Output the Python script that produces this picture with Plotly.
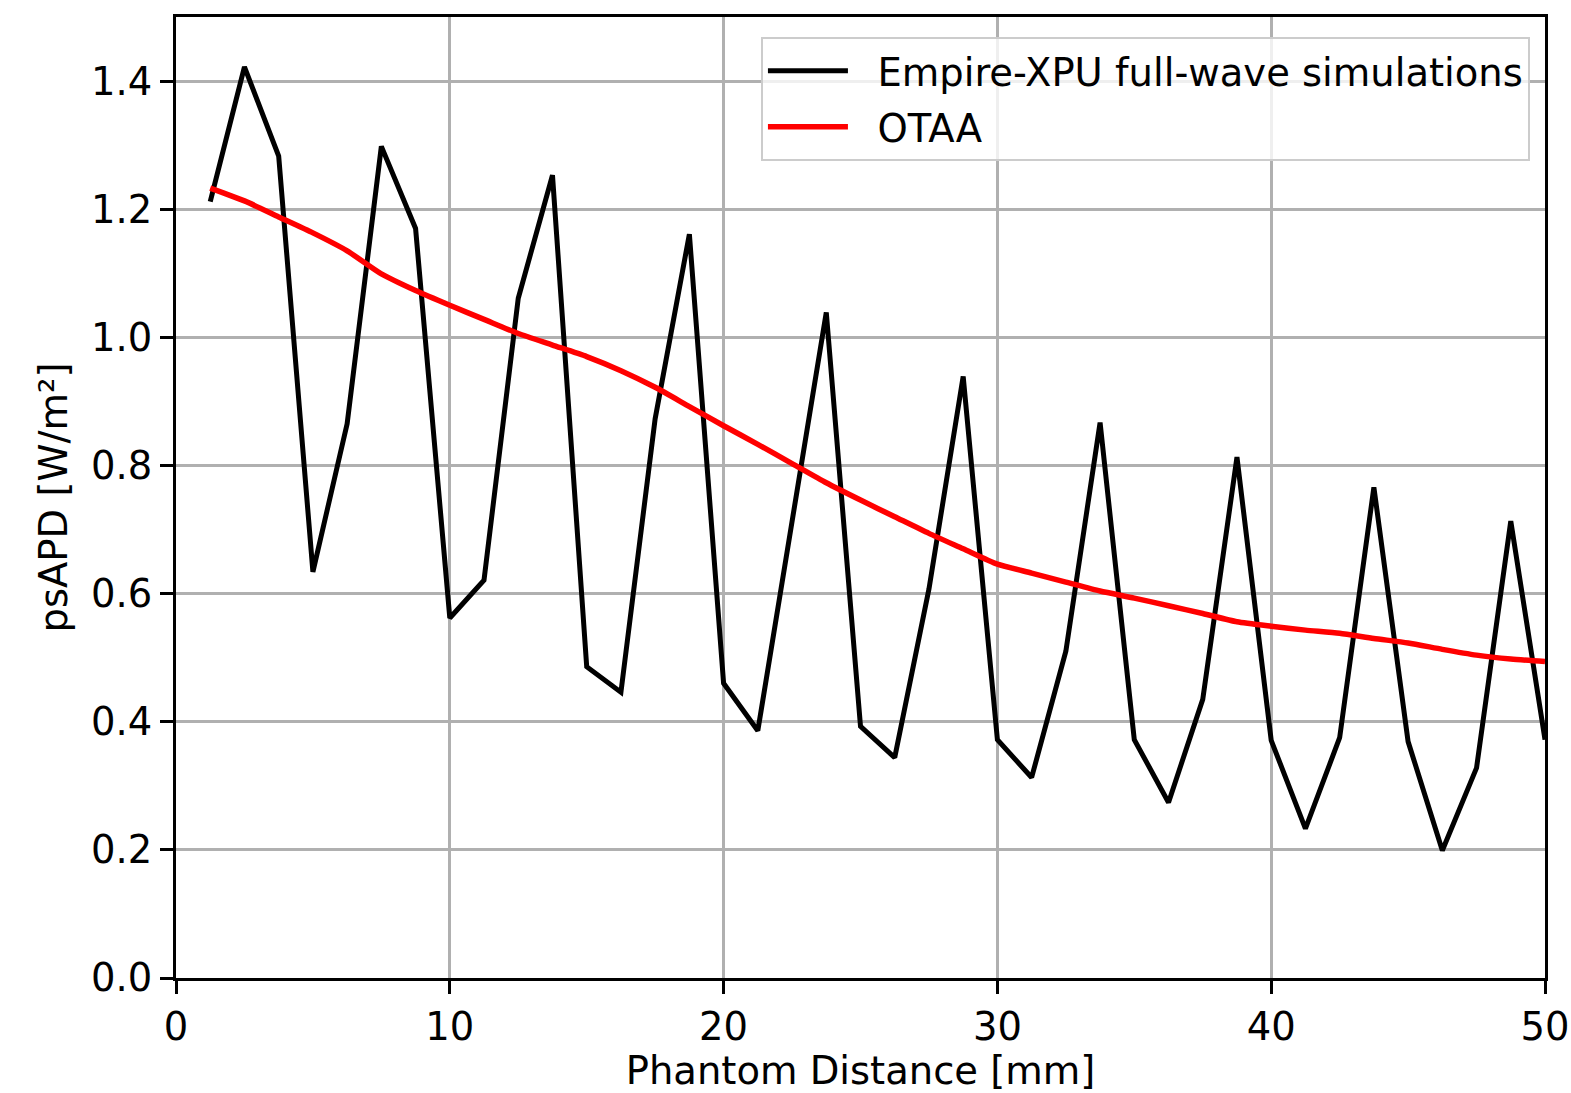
import plotly.graph_objects as go

# Data
distance_mm = [1.25 * k for k in range(1, 41)]
empire_xpu = [1.212, 1.422, 1.283, 0.634, 0.865, 1.298, 1.170, 0.562, 0.621, 1.061,
              1.253, 0.486, 0.446, 0.873, 1.161, 0.460, 0.386, 0.710, 1.039, 0.393,
              0.344, 0.607, 0.939, 0.372, 0.313, 0.510, 0.867, 0.372, 0.274, 0.435,
              0.813, 0.371, 0.233, 0.375, 0.766, 0.369, 0.199, 0.328, 0.713, 0.372]
otaa = [1.233, 1.213, 1.188, 1.163, 1.135, 1.099, 1.073, 1.050, 1.028, 1.006,
        0.988, 0.970, 0.948, 0.922, 0.892, 0.862, 0.833, 0.803, 0.773, 0.746,
        0.720, 0.694, 0.670, 0.646, 0.632, 0.618, 0.604, 0.593, 0.581, 0.569,
        0.556, 0.549, 0.543, 0.538, 0.530, 0.523, 0.513, 0.504, 0.498, 0.494]
x_ticks = [0, 10, 20, 30, 40, 50]
y_ticks = [0.0, 0.2, 0.4, 0.6, 0.8, 1.0, 1.2, 1.4]

FONT = "DejaVu Sans"
FS = 38.5

fig = go.Figure()
fig.add_trace(go.Scatter(x=distance_mm, y=empire_xpu, mode="lines",
                         name="  Empire-XPU full-wave simulations", legendgroup="a",
                         line=dict(color="black", width=5)))
fig.add_trace(go.Scatter(x=distance_mm, y=otaa, mode="lines", name="  OTAA", legendgroup="b",
                         line=dict(color="red", width=5.5, shape="spline", smoothing=0.6)))

axis_common = dict(
    showline=True, linecolor="black", linewidth=3, mirror=True,
    showgrid=True, gridcolor="#b0b0b0", gridwidth=2.5,
    ticks="outside", ticklen=13, tickwidth=3, tickcolor="black",
    tickfont=dict(family=FONT, size=FS, color="black"),
    zeroline=False, automargin=False,
)

fig.update_xaxes(range=[0, 50], tickvals=x_ticks, ticktext=[str(v) for v in x_ticks],
                 title=dict(text="Phantom Distance [mm]", font=dict(family=FONT, size=FS, color="black"),
                            standoff=6),
                 **axis_common)
fig.update_yaxes(range=[0, 1.5], tickvals=y_ticks, ticktext=[f"{v:.1f}" for v in y_ticks],
                 title=dict(text="psAPD [W/m²]", font=dict(family=FONT, size=FS, color="black"),
                            standoff=12),
                 **axis_common)

fig.update_layout(
    width=1571, height=1093,
    margin=dict(l=176, r=26, t=17, b=115),
    paper_bgcolor="white", plot_bgcolor="white",
    font=dict(family=FONT, size=FS, color="black"),
    legend=dict(x=0.989, y=0.979, xanchor="right", yanchor="top",
                bgcolor="rgba(255,255,255,0.8)", bordercolor="#cccccc", borderwidth=2,
                font=dict(family=FONT, size=FS, color="black"), itemwidth=80,
                tracegroupgap=3),
    showlegend=True,
)

fig.write_html("out.html", config={"displayModeBar": False},
               post_script="document.body.style.margin='0';document.body.style.overflow='hidden';")
